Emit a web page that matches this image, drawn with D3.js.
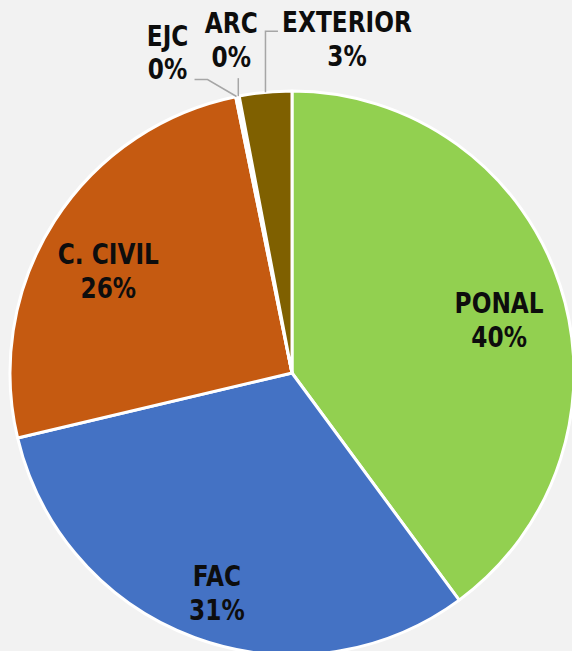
<!DOCTYPE html>
<html>
<head>
<meta charset="utf-8">
<script src="https://cdn.jsdelivr.net/npm/d3@7"></script>
<style>
  html, body { margin: 0; padding: 0; background: #f2f2f2; }
  svg { display: block; }
  text { font-family: "DejaVu Sans", Verdana, sans-serif; font-weight: bold; fill: #0d0d0d; }
</style>
</head>
<body>
<div id="chart"></div>
<script>
/* pie — share by institution, clockwise from 12 o'clock */
const categories = ["PONAL", "FAC", "C. CIVIL", "EJC", "ARC", "EXTERIOR"];
const values = [39.9, 31.4, 25.5, 0.1, 0.1, 3.0];
const labels = ["40%", "31%", "26%", "0%", "0%", "3%"];
const colors = ["#92d050", "#4472c4", "#c55a11", "#a5a5a5", "#ffc000", "#7f6000"];

const W = 572, Ht = 651;
const cx = 292, cy = 373, R = 282;
const fs = 25, lh = 34;
const sx = 0.93, sy = 1.1;   // squeeze DejaVu toward the narrower Tahoma look

const svg = d3.select("#chart").append("svg")
  .attr("width", W).attr("height", Ht)
  .attr("viewBox", `0 0 ${W} ${Ht}`);

svg.append("rect").attr("width", W).attr("height", Ht).attr("fill", "#f2f2f2");

const pie = d3.pie().sort(null).value(d => d.v);
const rows = categories.map((c, i) => ({ c, v: values[i], lab: labels[i], col: colors[i] }));
const arcs = pie(rows);

const arc = d3.arc().innerRadius(0).outerRadius(R);
const g = svg.append("g").attr("transform", `translate(${cx},${cy})`);

g.selectAll("path").data(arcs).join("path")
  .attr("d", arc)
  .attr("fill", d => d.data.col)
  .attr("stroke", "#fff")
  .attr("stroke-width", 3)
  .attr("stroke-linejoin", "round");

function twoLine(sel, x, y, a, b) {
  const t = sel.append("text")
    .attr("text-anchor", "middle")
    .attr("font-size", fs)
    .attr("transform", `translate(${x},${y}) scale(${sx},${sy})`);
  t.append("tspan").attr("x", 0).attr("y", 0).text(a);
  t.append("tspan").attr("x", 0).attr("y", lh / sy).text(b);
}

// inside labels for the big slices
const inArc = d3.arc().innerRadius(218).outerRadius(218);
arcs.filter(d => d.data.v >= 10).forEach(d => {
  const [x, y] = inArc.centroid(d);
  twoLine(g, x, y + 8, d.data.c, d.data.lab);
});

// outside labels with leader lines for the small slices
// leader: [elbow dx, elbow dy, end dx, end dy] from the edge point; text: [dx, baseline dy]
const outLayout = {
  "EJC":      { leader: [-29, -17, -42, -17],  text: [-69, -51] },
  "ARC":      { leader: [0, -18, 0, -18],      text: [-7, -63] },
  "EXTERIOR": { leader: [0, -61, 12.5, -61],   text: [81.5, -60] }
};
const edge = d => {
  const a = (d.startAngle + d.endAngle) / 2;
  return [R * Math.sin(a), -R * Math.cos(a)];
};
arcs.filter(d => d.data.v < 10).forEach(d => {
  const L = outLayout[d.data.c];
  const [ex, ey] = edge(d);
  const pts = [[ex, ey], [ex + L.leader[0], ey + L.leader[1]], [ex + L.leader[2], ey + L.leader[3]]];
  g.append("path")
    .attr("d", d3.line()(pts))
    .attr("fill", "none")
    .attr("stroke", "#a6a6a6")
    .attr("stroke-width", 1.5);
  twoLine(g, ex + L.text[0], ey + L.text[1], d.data.c, d.data.lab);
});
</script>
</body>
</html>
